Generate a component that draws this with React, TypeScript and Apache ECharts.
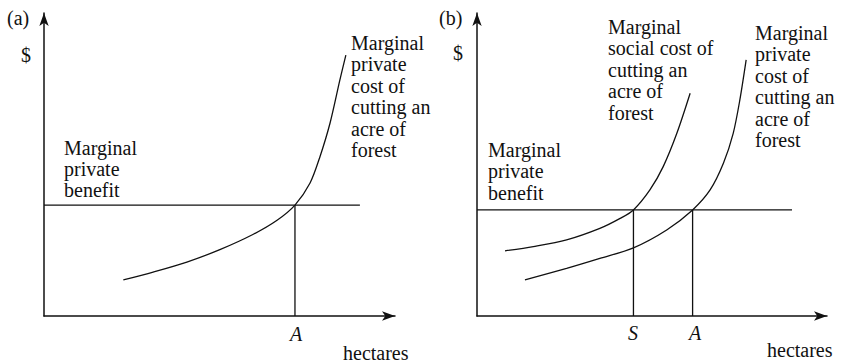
import React, { useEffect, useRef } from "react";
import * as echarts from "echarts";

// Panel (a): marginal private cost curve (hectares units, $ units)
const costAX = [22.6, 31.1, 40.7, 50.1, 59.5, 66.4, 71.5, 75.8, 78.6, 81.5, 84.3, 86.0];
const costAY = [11.9, 14.5, 17.8, 21.9, 26.9, 31.6, 36.6, 43.9, 52.5, 63.7, 77.9, 86.1];
const benefitA = 36.6;
const benefitAEnd = 90;
const pointA_a = 71.5;

// Panel (b)
const socialX = [8.0, 16.1, 25.6, 35.1, 40.9, 44.7, 49.4, 53.2, 57.1, 60.9];
const socialY = [21.5, 22.9, 25.1, 28.9, 32.2, 35.0, 41.6, 49.3, 60.3, 73.5];
const privX = [13.7, 25.6, 35.1, 44.7, 54.2, 61.6, 66.6, 70.4, 73.2, 75.1, 76.9];
const privY = [11.9, 15.7, 19.0, 22.5, 28.4, 35.0, 41.6, 50.4, 60.3, 71.3, 84.5];
const benefitB = 35.0;
const benefitBEnd = 90;
const pointS_b = 44.7;
const pointA_b = 61.6;

const INK = "#111";
const FONT = "Liberation Serif";

function zip(xs: number[], ys: number[]) {
  return xs.map((x, i) => [x, ys[i]]);
}

function lineSeries(idx: number, data: number[][], smooth: boolean | number = false) {
  return {
    type: "line",
    xAxisIndex: idx,
    yAxisIndex: idx,
    data,
    smooth,
    showSymbol: false,
    symbol: "none",
    lineStyle: { color: INK, width: 1.3 },
    silent: true,
  };
}

function txt(x: number, y: number, text: string, extra: any = {}) {
  return {
    type: "text",
    x,
    y,
    silent: true,
    style: {
      text,
      fill: INK,
      fontFamily: FONT,
      fontSize: 20,
      lineHeight: 21.4,
      verticalAlign: "top",
      align: "left",
      ...extra,
    },
  };
}

export default function App() {
  const ref = useRef<HTMLDivElement>(null);
  useEffect(() => {
    if (!ref.current) return;
    const chart = echarts.init(ref.current, undefined, { renderer: "svg" });
    const axisBase = {
      type: "value",
      min: 0,
      max: 100,
      axisTick: { show: false },
      axisLabel: { show: false },
      splitLine: { show: false },
    };
    const axisLine = {
      show: true,
      symbol: ["none", "arrow"],
      symbolSize: [7, 13],
      lineStyle: { color: INK, width: 1.5 },
    };
    chart.setOption({
      animation: false,
      backgroundColor: "#fff",
      grid: [
        { left: 44, top: 13, width: 351, height: 303 },
        { left: 477, top: 13, width: 350, height: 303 },
      ],
      xAxis: [
        { ...axisBase, gridIndex: 0, axisLine },
        { ...axisBase, gridIndex: 1, axisLine },
      ],
      yAxis: [
        { ...axisBase, gridIndex: 0, axisLine },
        { ...axisBase, gridIndex: 1, axisLine },
      ],
      series: [
        lineSeries(0, [[0, benefitA], [benefitAEnd, benefitA]]),
        lineSeries(0, [[pointA_a, 0], [pointA_a, benefitA]]),
        lineSeries(0, zip(costAX, costAY), 0.3),
        lineSeries(1, [[0, benefitB], [benefitBEnd, benefitB]]),
        lineSeries(1, [[pointS_b, 0], [pointS_b, benefitB]]),
        lineSeries(1, [[pointA_b, 0], [pointA_b, benefitB]]),
        lineSeries(1, zip(socialX, socialY), 0.3),
        lineSeries(1, zip(privX, privY), 0.3),
      ],
      graphic: [
        txt(7, 18, "(a)", { verticalAlign: "middle" }),
        txt(21, 55, "$", { verticalAlign: "middle" }),
        txt(64, 136.8, "Marginal\nprivate\nbenefit"),
        txt(351, 32.3, "Marginal\nprivate\ncost of\ncutting an\nacre of\nforest"),
        txt(296, 334, "A", { align: "center", verticalAlign: "middle", fontStyle: "italic" }),
        txt(343, 353, "hectares", { verticalAlign: "middle" }),
        txt(439, 18, "(b)", { verticalAlign: "middle" }),
        txt(453, 53, "$", { verticalAlign: "middle" }),
        txt(488, 139.3, "Marginal\nprivate\nbenefit"),
        txt(608, 16.3, "Marginal\nsocial cost of\ncutting an\nacre of\nforest"),
        txt(755, 22.3, "Marginal\nprivate\ncost of\ncutting an\nacre of\nforest"),
        txt(633, 333, "S", { align: "center", verticalAlign: "middle", fontStyle: "italic" }),
        txt(695, 333, "A", { align: "center", verticalAlign: "middle", fontStyle: "italic" }),
        txt(767, 350, "hectares", { verticalAlign: "middle" }),
      ],
    });
    return () => chart.dispose();
  }, []);
  return (
    <div
      ref={ref}
      style={{ position: "fixed", left: 0, top: 0, width: 845, height: 364, background: "#fff" }}
    />
  );
}
